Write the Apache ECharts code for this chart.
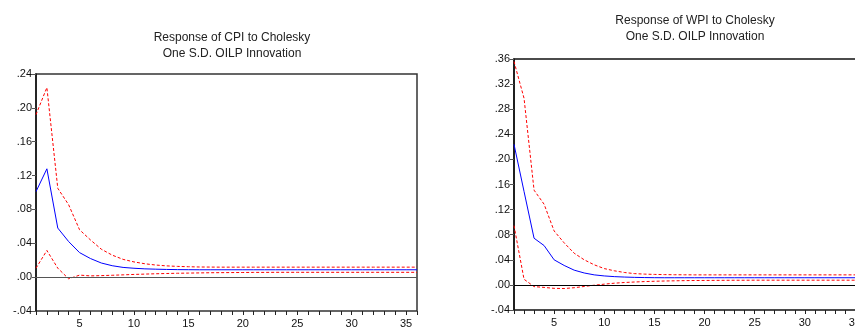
<!DOCTYPE html>
<html>
<head>
<meta charset="utf-8">
<script src="https://cdn.jsdelivr.net/npm/echarts@6/dist/echarts.min.js"></script>
<style>
html,body{margin:0;padding:0;background:#fff;}
#chart{width:855px;height:330px;}
</style>
</head>
<body>
<div id="chart"></div>
<script>
var periods = [1,2,3,4,5,6,7,8,9,10,11,12,13,14,15,16,17,18,19,20,21,22,23,24,25,26,27,28,29,30,31,32,33,34,35,36];

var cpiResponse = [0.101,0.128,0.058,0.042,0.029,0.022,0.0167,0.0135,0.0115,0.0105,0.0098,0.0094,0.0091,0.0089,0.0088,0.0087,0.0087,0.0087,0.0087,0.0087,0.0087,0.0087,0.0087,0.0087,0.0087,0.0087,0.0087,0.0087,0.0087,0.0087,0.0087,0.0087,0.0087,0.0087,0.0087,0.0087];
var cpiUpper = [0.192,0.224,0.105,0.0855,0.056,0.044,0.033,0.026,0.021,0.018,0.0158,0.0143,0.0133,0.0127,0.0123,0.012,0.0119,0.0118,0.0118,0.0118,0.0118,0.0118,0.0118,0.0118,0.0118,0.0118,0.0118,0.0118,0.0118,0.0118,0.0118,0.0118,0.0118,0.0118,0.0118,0.0118];
var cpiLower = [0.0106,0.0315,0.0106,-0.002,0.0024,0.0015,0.0018,0.0022,0.0027,0.0032,0.0036,0.004,0.0043,0.0046,0.0048,0.005,0.0052,0.0053,0.0054,0.0055,0.0056,0.0056,0.0057,0.0057,0.0057,0.0057,0.0057,0.0057,0.0057,0.0057,0.0057,0.0057,0.0057,0.0057,0.0057,0.0057];

var wpiResponse = [0.224,0.149,0.0744,0.0627,0.040,0.031,0.0235,0.019,0.016,0.0143,0.0132,0.0125,0.012,0.0117,0.0115,0.0114,0.0114,0.0114,0.0114,0.0114,0.0114,0.0114,0.0114,0.0114,0.0114,0.0114,0.0114,0.0114,0.0114,0.0114,0.0114,0.0114,0.0114,0.0114,0.0114,0.0114];
var wpiUpper = [0.356,0.2975,0.151,0.1286,0.086,0.067,0.0505,0.040,0.032,0.026,0.0225,0.0198,0.018,0.0172,0.0167,0.0164,0.0162,0.0161,0.016,0.016,0.016,0.016,0.016,0.016,0.016,0.016,0.016,0.016,0.016,0.016,0.016,0.016,0.016,0.016,0.016,0.016];
var wpiLower = [0.0945,0.009,-0.0027,-0.004,-0.0055,-0.0058,-0.0045,-0.0025,-0.0005,0.0012,0.0027,0.0038,0.0046,0.0053,0.0058,0.0062,0.0065,0.0068,0.007,0.0071,0.0072,0.0073,0.0074,0.0074,0.0075,0.0075,0.0075,0.0075,0.0075,0.0075,0.0075,0.0075,0.0075,0.0075,0.0075,0.0075];

var titleLines = ['Response of CPI to Cholesky\nOne S.D. OILP Innovation', 'Response of WPI to Cholesky\nOne S.D. OILP Innovation'];

var FONT = '"Liberation Sans", Arial, sans-serif';

function fmt(v) {
  var s = (Math.round(v * 100) / 100).toFixed(2);
  if (s === '-0.00') s = '0.00';
  return s.replace(/^(-?)0\./, '$1.');
}

function xAxisCfg(gi) {
  return {
    type: 'category', gridIndex: gi, data: periods, boundaryGap: false,
    axisLine: {show: false, onZero: false},
    axisTick: {show: true, interval: 0, length: 4, inside: false, lineStyle: {color: '#222'}},
    axisLabel: {interval: function (i, v) { return Number(v) % 5 === 0; }, color: '#111', fontSize: 11, fontFamily: FONT, margin: 7},
    splitLine: {show: false}
  };
}
function yAxisCfg(gi, max) {
  return {
    type: 'value', gridIndex: gi, min: -0.04, max: max, interval: 0.04,
    axisLine: {show: true, onZero: false, lineStyle: {color: '#111', width: 1.5}},
    axisTick: {show: true, length: 4, lineStyle: {color: '#555'}},
    axisLabel: {formatter: fmt, color: '#111', fontSize: 11, fontFamily: FONT, margin: 4},
    splitLine: {show: false}
  };
}
function lineSeries(gi, data, color, dashed, zeroColor) {
  var s = {
    type: 'line', xAxisIndex: gi, yAxisIndex: gi, data: data,
    showSymbol: false, symbol: 'none', animation: false, silent: true,
    lineStyle: {color: color, width: 1, type: dashed ? [3, 2] : 'solid'}
  };
  if (zeroColor) {
    s.markLine = {
      silent: true, symbol: 'none', label: {show: false}, animation: false,
      lineStyle: {color: zeroColor, width: 1, type: 'solid'},
      data: [{yAxis: 0}]
    };
  }
  return s;
}

var chart = echarts.init(document.getElementById('chart'), null, {renderer: 'canvas'});
chart.setOption({
  animation: false,
  backgroundColor: '#fff',
  title: [
    {text: titleLines[0], left: 227, top: 25, textAlign: 'center',
     textStyle: {fontSize: 12, fontWeight: 'normal', color: '#222', fontFamily: FONT, lineHeight: 16}},
    {text: titleLines[1], left: 690, top: 8, textAlign: 'center',
     textStyle: {fontSize: 12, fontWeight: 'normal', color: '#222', fontFamily: FONT, lineHeight: 16}}
  ],
  grid: [
    {left: 36, top: 74, width: 381, height: 237, show: true, borderColor: '#333', borderWidth: 1.5, backgroundColor: 'transparent', containLabel: false, outerBoundsMode: 'none'},
    {left: 514, top: 59, width: 351, height: 251, show: true, borderColor: '#111', borderWidth: 1.5, backgroundColor: 'transparent', containLabel: false, outerBoundsMode: 'none'}
  ],
  xAxis: [xAxisCfg(0), xAxisCfg(1)],
  yAxis: [yAxisCfg(0, 0.24), yAxisCfg(1, 0.36)],
  series: [
    lineSeries(0, cpiUpper, '#ff0000', true, '#555'),
    lineSeries(0, cpiLower, '#ff0000', true, null),
    lineSeries(0, cpiResponse, '#0000ff', false, null),
    lineSeries(1, wpiUpper, '#ff0000', true, '#000'),
    lineSeries(1, wpiLower, '#ff0000', true, null),
    lineSeries(1, wpiResponse, '#0000ff', false, null)
  ]
});
</script>
</body>
</html>
